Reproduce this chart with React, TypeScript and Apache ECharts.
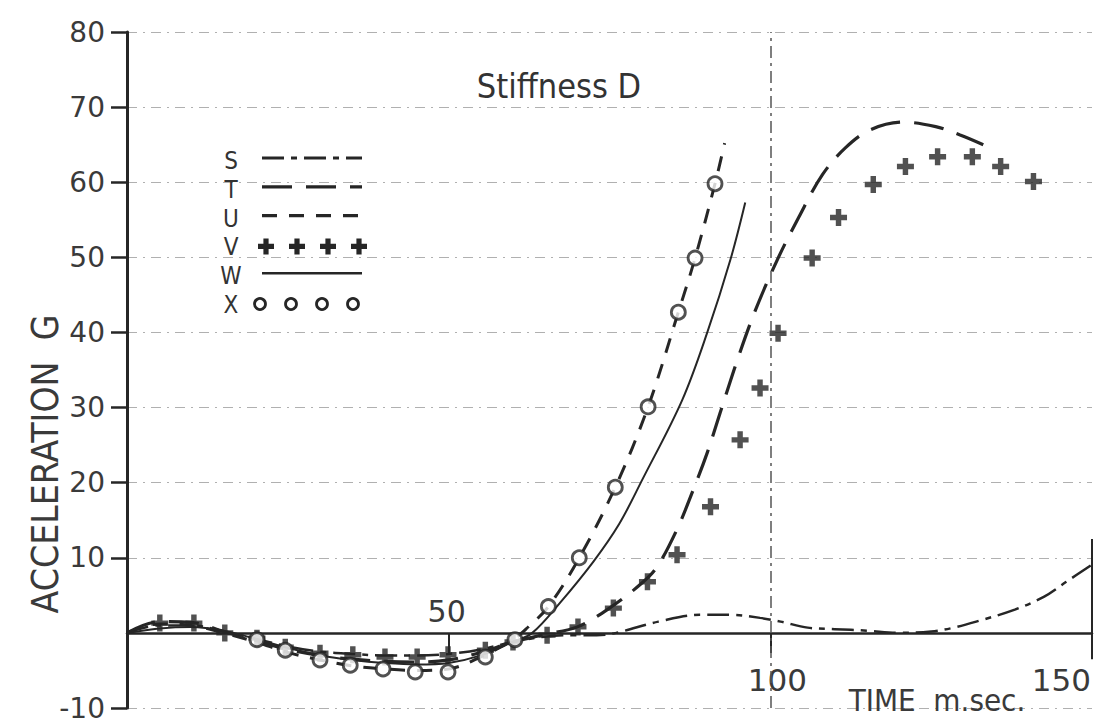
import React, { useEffect, useRef } from "react";
import * as echarts from "echarts";

// ---- data (time in ms, acceleration in G) ----
const Y_TICKS = [-10, 10, 20, 30, 40, 50, 60, 70, 80];
const X_LABELS = ["50", "100", "150"];
const LEGEND_KEYS = ["S", "T", "U", "V", "W", "X"];

const S_DATA = [
  [0, 0], [5, 1.0], [10, 1.0], [15, 0.2], [20, -0.8], [25, -1.8], [30, -2.5], [35, -2.8],
  [40, -3.0], [45, -3.0], [50, -2.8], [55, -2.2], [60, -1.2], [65, -0.5], [70, -0.3],
  [73, -0.3], [76, 0], [82.6, 1.5], [89, 2.4], [94, 2.4], [98.4, 2.0], [101.6, 1.5],
  [105.8, 0.7], [110, 0.5], [115, 0.3], [120, 0], [125, 0.2], [128, 0.6], [132, 1.5],
  [138, 3.1], [142.5, 4.8], [146, 6.8], [150, 9.1],
];
const T_DATA = [
  [0, 0], [5, 1.5], [10, 1.4], [15, 0.2], [20, -1.0], [25, -2.2], [30, -3.0], [35, -3.5],
  [40, -3.8], [45, -3.9], [50, -3.6], [55, -2.6], [60, -1.2], [65, -0.2], [70, 0.8],
  [75, 3.3], [80, 6.6], [82.4, 8.8], [85.5, 13.8], [88, 19.0], [90.2, 24.0], [92.2, 29.3],
  [94.9, 36.4], [97.7, 43.0], [101.1, 49.7], [104.4, 55.3], [108.1, 61.0], [111.7, 64.6],
  [115.6, 67.0], [120.7, 68.0], [125.7, 67.4], [129.5, 66.3], [133.1, 65.0],
];
const U_DATA = [
  [0, 0], [5, 1.2], [10, 1.0], [15, 0], [20, -1.2], [25, -2.6], [30, -3.6], [35, -4.4],
  [40, -4.8], [45, -5.0], [50, -4.8], [55, -3.2], [60, -0.9], [62, 0.5], [65.5, 3.5],
  [70.3, 10.0], [75.9, 19.4], [81, 30.1], [85.7, 42.7], [88.3, 49.9], [91.4, 59.8], [92.9, 65.2],
];
const V_DATA = [
  [5.1, 1.3], [10.4, 1.3], [15.2, 0], [20.2, -0.7], [24.6, -1.9], [30, -2.7], [35.1, -2.9],
  [40.1, -3.2], [45.1, -3.2], [49.9, -2.9], [55.7, -2.3], [60, -1.2], [65.3, -0.3], [70.1, 0.8],
  [75.6, 3.3], [80.9, 6.8], [85.5, 10.4], [90.7, 16.8], [95.3, 25.7], [98.4, 32.6],
  [101.2, 39.9], [106.5, 49.9], [110.6, 55.3], [116, 59.7], [121, 62.1], [126, 63.4],
  [131.4, 63.4], [135.8, 62.1], [140.9, 60.1],
];
const W_DATA = [
  [0, 0], [5, 0.6], [10, 0.8], [15, 0.3], [20, -0.8], [25, -2.0], [30, -3.0], [35, -3.6],
  [40, -4.0], [45, -4.2], [50, -4.0], [55, -3.0], [60, -1.2], [63, 0], [67.3, 4.0],
  [72.5, 9.5], [76.5, 14.5], [80.1, 20.4], [86.3, 31.0], [90.2, 40.0], [93.8, 49.7], [96.1, 57.3],
];
const X_DATA = [
  [20.2, -0.9], [24.6, -2.3], [30, -3.6], [34.7, -4.3], [39.8, -4.8], [44.8, -5.2],
  [49.9, -5.2], [55.7, -3.2], [60.3, -0.9], [65.5, 3.5], [70.3, 10.0], [75.9, 19.4],
  [81, 30.1], [85.7, 42.7], [88.3, 49.9], [91.4, 59.8],
];

const INK = "#262626";
const GRIDC = "#b0b0b0";
const NUM_FONT = "'DejaVu Sans', sans-serif";
const COND_FONT = "'DejaVu Sans Condensed', 'Liberation Sans Narrow', 'DejaVu Sans', sans-serif";
const PLUS = "path://M3.4,0 H6.6 V3.4 H10 V6.6 H6.6 V10 H3.4 V6.6 H0 V3.4 H3.4 Z";

const DASH_S = [22, 7, 6, 7];
const DASH_T = [30, 14];
const DASH_U = [15, 12];

function plusPoints(cx: number, cy: number, r: number, w: number) {
  return [
    [cx - w, cy - r], [cx + w, cy - r], [cx + w, cy - w], [cx + r, cy - w], [cx + r, cy + w],
    [cx + w, cy + w], [cx + w, cy + r], [cx - w, cy + r], [cx - w, cy + w], [cx - r, cy + w],
    [cx - r, cy - w], [cx - w, cy - w],
  ];
}

export default function App() {
  const ref = useRef<HTMLDivElement>(null);
  useEffect(() => {
    if (!ref.current) return;
    const chart = echarts.init(ref.current, null, { renderer: "svg" });
    const lineSeries = (name: string, data: number[][], type: any, width: number) => ({
      name,
      type: "line",
      data,
      smooth: 0.35,
      showSymbol: false,
      symbol: "none",
      lineStyle: { color: INK, width, type },
      z: 3,
    });
    const option: any = {
      animation: false,
      backgroundColor: "#ffffff",
      grid: { left: 127, right: 18, top: 32, bottom: 15, containLabel: false },
      xAxis: {
        type: "value",
        min: 0,
        max: 150,
        interval: 50,
        axisLine: { onZero: true, lineStyle: { color: INK, width: 2.5 } },
        axisTick: { show: true, length: 20, lineStyle: { color: INK, width: 2 } },
        axisLabel: { show: false },
        splitLine: { show: false },
      },
      yAxis: {
        type: "value",
        min: -10,
        max: 80,
        interval: 10,
        axisLine: { show: true, onZero: false, lineStyle: { color: INK, width: 3 } },
        axisTick: {
          show: true,
          length: 16,
          customValues: Y_TICKS,
          lineStyle: { color: INK, width: 2.5 },
        },
        axisLabel: {
          customValues: Y_TICKS,
          margin: 22,
          fontSize: 28,
          color: "#3a3a3a",
          fontFamily: NUM_FONT,
        },
        splitLine: {
          show: true,
          lineStyle: { color: GRIDC, width: 1, type: [10, 6, 2, 6] },
        },
      },
      series: [
        {
          ...lineSeries("S", S_DATA, DASH_S, 2.5),
          markLine: {
            silent: true,
            symbol: "none",
            label: { show: false },
            data: [
              [
                { coord: [100, -10], lineStyle: { color: "#555", width: 1.5, type: [12, 5, 3, 5] } },
                { coord: [100, 80] },
              ],
              [
                { coord: [150, -3.5], lineStyle: { color: INK, width: 2, type: "solid" } },
                { coord: [150, 12.5] },
              ],
            ],
          },
        },
        lineSeries("T", T_DATA, DASH_T, 3.2),
        lineSeries("U", U_DATA, DASH_U, 3),
        {
          name: "V",
          type: "scatter",
          data: V_DATA,
          symbol: PLUS,
          symbolSize: 17,
          itemStyle: { color: INK },
          z: 4,
        },
        lineSeries("W", W_DATA, "solid", 2),
        {
          name: "X",
          type: "scatter",
          data: X_DATA,
          symbol: "circle",
          symbolSize: 14,
          itemStyle: { color: "#ffffff", borderColor: INK, borderWidth: 2.8 },
          z: 5,
        },
      ],
    };
    chart.setOption(option);

    const px = (x: number, y: number) =>
      chart.convertToPixel({ xAxisIndex: 0, yAxisIndex: 0 }, [x, y]) as number[];
    const p50 = px(50, 0);
    const p100 = px(100, -10);
    const p150 = px(150, -10);
    const pTop = px(0, 80);
    const pBot = px(0, -10);

    const legendX = 231;
    const legendY0 = 160;
    const legendStep = 28.8;
    const lx0 = 262;
    const lx1 = 362;
    const legendEls: any[] = [];
    LEGEND_KEYS.forEach((k, i) => {
      const y = legendY0 + i * legendStep;
      legendEls.push({
        type: "text",
        x: legendX,
        y: y + 1,
        style: {
          text: k,
          fontSize: 24,
          fontFamily: COND_FONT,
          fill: "#333",
          align: "center",
          verticalAlign: "middle",
        },
      });
      const dashes: Record<string, any> = { S: DASH_S, T: DASH_T, U: DASH_U, W: "solid" };
      if (dashes[k] !== undefined) {
        legendEls.push({
          type: "line",
          shape: { x1: lx0, y1: y - 2, x2: lx1, y2: y - 2 },
          style: {
            stroke: INK,
            lineWidth: k === "W" ? 2.5 : 3.2,
            lineDash: dashes[k] === "solid" ? null : dashes[k],
          },
        });
      } else {
        [0, 1, 2, 3].forEach((j) => {
          const cx = 266 + j * 31;
          if (k === "V") {
            legendEls.push({
              type: "polygon",
              shape: { points: plusPoints(cx, y, 8, 2.6) },
              style: { fill: INK },
            });
          } else {
            legendEls.push({
              type: "circle",
              shape: { cx: cx - 6, cy: y, r: 5.5 },
              style: { fill: "#fff", stroke: INK, lineWidth: 2.8 },
            });
          }
        });
      }
    });

    chart.setOption({
      graphic: [
        {
          type: "text",
          x: 45,
          y: (pTop[1] + pBot[1]) / 2 + 94,
          rotation: Math.PI / 2,
          style: {
            text: "ACCELERATION  G",
            fontSize: 37,
            fontFamily: COND_FONT,
            fill: "#3a3a3a",
            align: "center",
            verticalAlign: "middle",
          },
        },
        {
          type: "text",
          x: 559,
          y: 86,
          style: {
            text: "Stiffness D",
            fontSize: 34,
            fontFamily: COND_FONT,
            fill: "#333",
            align: "center",
            verticalAlign: "middle",
          },
        },
        {
          type: "text",
          x: p50[0] - 2,
          y: p50[1] - 6,
          style: {
            text: X_LABELS[0],
            fontSize: 30,
            fontFamily: NUM_FONT,
            fill: "#3a3a3a",
            align: "center",
            verticalAlign: "bottom",
          },
        },
        {
          type: "text",
          x: p100[0] + 7,
          y: p100[1] - 28,
          style: {
            text: X_LABELS[1],
            fontSize: 31,
            fontFamily: NUM_FONT,
            fill: "#3a3a3a",
            align: "center",
            verticalAlign: "middle",
          },
        },
        {
          type: "text",
          x: p150[0] - 1,
          y: p150[1] - 28,
          style: {
            text: X_LABELS[2],
            fontSize: 31,
            fontFamily: NUM_FONT,
            fill: "#3a3a3a",
            align: "right",
            verticalAlign: "middle",
          },
        },
        {
          type: "text",
          x: 937,
          y: p150[1] - 8,
          style: {
            text: "TIME  m.sec.",
            fontSize: 31,
            fontFamily: COND_FONT,
            fill: "#3a3a3a",
            align: "center",
            verticalAlign: "middle",
          },
        },
        ...legendEls,
      ],
    });

    return () => chart.dispose();
  }, []);
  return <div ref={ref} style={{ width: 1110, height: 723, position: "absolute", left: 0, top: 0 }} />;
}
